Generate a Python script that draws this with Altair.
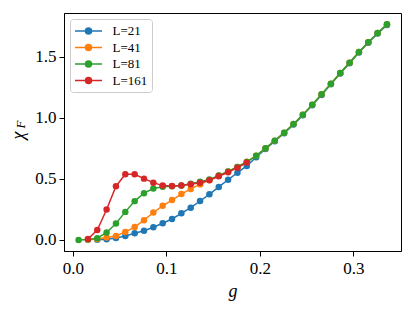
import altair as alt
import pandas as pd

g = [0.006, 0.016, 0.026, 0.036, 0.046, 0.056, 0.066, 0.076, 0.086, 0.096,
     0.106, 0.116, 0.126, 0.136, 0.146, 0.156, 0.166, 0.176, 0.186, 0.196,
     0.206, 0.216, 0.226, 0.236, 0.246, 0.256, 0.266, 0.276, 0.286, 0.296,
     0.306, 0.316, 0.326, 0.336]

labels = ["L=21", "L=41", "L=81", "L=161"]
colors = ["#1f77b4", "#ff7f0e", "#2ca02c", "#d62728"]

# chi_F per series (None = no point at that g)
chi_21 = [None, None, 0.003, 0.007, 0.016, 0.033, 0.055, 0.076, 0.104, 0.137,
          0.172, 0.218, 0.264, 0.319, 0.374, 0.434, 0.493, 0.551, 0.606, 0.677,
          0.745, 0.808, 0.873, 0.944, 1.020, 1.102, 1.187, 1.274, 1.362, 1.446,
          1.533, 1.613, 1.689, 1.758]
chi_41 = [None, 0.003, 0.008, 0.020, 0.033, 0.066, 0.106, 0.162, 0.225, 0.280,
          0.327, 0.376, 0.418, 0.455, 0.490, 0.527, 0.560, 0.598, 0.640, 0.690,
          0.750, 0.813, 0.878, 0.949, 1.025, 1.107, 1.192, 1.279, 1.367, 1.451,
          1.538, 1.618, 1.694, 1.765]
chi_81 = [0.000, 0.004, 0.015, 0.062, 0.135, 0.230, 0.318, 0.383, 0.421, 0.436,
          0.440, 0.446, 0.460, 0.476, 0.496, 0.527, 0.560, 0.597, 0.638, 0.690,
          0.750, 0.813, 0.878, 0.949, 1.025, 1.107, 1.192, 1.279, 1.367, 1.451,
          1.538, 1.618, 1.694, 1.765]
chi_161 = [None, 0.008, 0.082, 0.250, 0.440, 0.537, 0.537, 0.502, 0.469, 0.445,
           0.442, 0.445, 0.456, 0.469, 0.489, 0.521, 0.554, 0.592, 0.633]

series = [chi_21, chi_41, chi_81, chi_161]

y_title_main = "χ"
y_title_sub = "F"

rows = []
for lab, vals in zip(labels, series):
    for gi, v in zip(g, vals):
        if v is not None:
            rows.append({"g": gi, "chi": v, "L": lab})
df = pd.DataFrame(rows)

FONT = "Liberation Serif"

xs = alt.X("g:Q",
           scale=alt.Scale(domain=[-0.0096, 0.351], nice=False, zero=False),
           axis=alt.Axis(values=[0.0, 0.1, 0.2, 0.3], format=".1f", title="g",
                         grid=False, tickSize=5, labelPadding=4,
                         labelFont=FONT, titleFont=FONT,
                         titlePadding=6, titleFontStyle="italic"))
ys = alt.Y("chi:Q",
           scale=alt.Scale(domain=[-0.09, 1.857], nice=False, zero=False),
           axis=alt.Axis(values=[0.0, 0.5, 1.0, 1.5], format=".1f",
                         title=y_title_main,
                         grid=False, tickSize=5, labelPadding=3,
                         labelFont=FONT, titleFont=FONT,
                         titleFontStyle="italic", titleAngle=-90,
                         titleX=-46, titleY=122, titleAlign="center",
                         titleBaseline="middle"))

stroke_scale = alt.Scale(domain=labels, range=colors)
legend = alt.Legend(title=None, orient="none", legendX=6, legendY=6,
                    symbolType="M-1.93,0H1.93M-0.43,0A0.43,0.43,0,1,1,0.43,0A0.43,0.43,0,1,1,-0.43,0Z",
                    symbolSize=196, symbolStrokeWidth=1.5, symbolOffset=6.5,
                    labelOffset=16, labelFontSize=13, labelFont=FONT,
                    rowPadding=1.5, padding=4, cornerRadius=3,
                    strokeColor="#cccccc", fillColor="rgba(255,255,255,0.8)")

layers = []
for lab in labels:
    sub = alt.Chart(df).transform_filter(alt.datum.L == lab)
    layers.append(sub.mark_line(strokeWidth=1.5).encode(
        x=xs, y=ys,
        stroke=alt.Stroke("L:N", scale=stroke_scale, legend=legend)))
    layers.append(sub.mark_point(filled=True, size=42, opacity=1).encode(
        x=xs, y=ys,
        fill=alt.Fill("L:N", scale=stroke_scale, legend=legend)))

sub_label = alt.Chart(pd.DataFrame({"t": [y_title_sub]})).mark_text(
    angle=270, font=FONT, fontSize=13, fontStyle="italic", color="black",
    align="center", baseline="middle"
).encode(x=alt.value(-43), y=alt.value(111.5), text="t:N")
layers.append(sub_label)

chart = alt.layer(*layers).properties(
    width=337, height=238,
    autosize=alt.AutoSizeParams(type="none"),
    padding={"left": 56, "top": 5, "right": 6, "bottom": 58},
).configure_view(stroke="black", strokeWidth=1).configure_axis(
    labelFont=FONT, titleFont=FONT, labelFontSize=17, titleFontSize=18,
    labelColor="black", titleColor="black", tickColor="black",
    domainColor="black", titleFontWeight="normal"
)

chart.save("out.html", embed_options={"renderer": "svg", "actions": False})
